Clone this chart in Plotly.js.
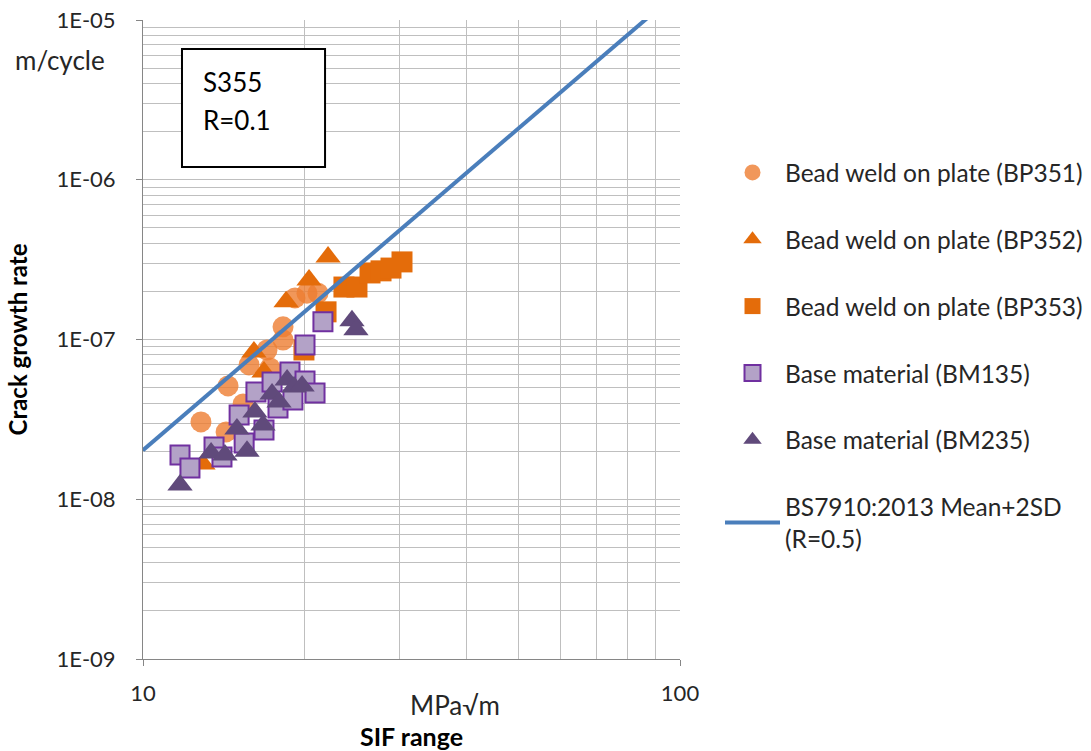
<!DOCTYPE html>
<html>
<head>
<meta charset="utf-8">
<script src="https://cdn.plot.ly/plotly-3.0.1.min.js"></script>
<style>
  html, body { margin: 0; padding: 0; background: #ffffff; }
  #chart { width: 1091px; height: 751px; }
</style>
</head>
<body>
<div id="chart"></div>
<script>
// ---- Data (SIF range in MPa√m, crack growth rate in m/cycle) ----
const bp351_x = [12.82, 14.28, 14.40, 15.36, 15.76, 17.02, 17.24, 18.23, 18.23, 19.19, 20.20, 21.18];
const bp351_y = [3.05e-8, 2.64e-8, 5.12e-8, 3.95e-8, 6.93e-8, 8.60e-8, 6.63e-8, 9.93e-8, 1.20e-7, 1.82e-7, 1.95e-7, 1.95e-7];

const bp352_x = [12.93, 16.09, 16.80, 18.47, 20.38, 22.11];
const bp352_y = [1.66e-8, 8.35e-8, 6.26e-8, 1.72e-7, 2.36e-7, 3.28e-7];

const bp353_x = [19.94, 21.92, 23.67, 25.03, 26.47, 27.75, 28.96, 30.36];
const bp353_y = [8.60e-8, 1.49e-7, 2.13e-7, 2.13e-7, 2.61e-7, 2.69e-7, 2.80e-7, 3.06e-7];

const bm135_x = [11.72, 12.23, 13.56, 14.03, 15.10, 15.43, 16.23, 16.80, 17.39, 17.84, 18.78, 19.02, 20.03, 20.91, 20.03, 21.63];
const bm135_y = [1.89e-8, 1.57e-8, 2.12e-8, 1.84e-8, 3.37e-8, 2.25e-8, 4.69e-8, 2.71e-8, 5.42e-8, 3.73e-8, 6.26e-8, 4.18e-8, 5.50e-8, 4.62e-8, 9.24e-8, 1.29e-7];

const bm235_x = [11.72, 13.39, 14.21, 14.96, 15.62, 16.16, 16.73, 17.39, 17.92, 18.55, 19.11, 19.78, 24.50, 24.92];
const bm235_y = [1.23e-8, 1.95e-8, 1.89e-8, 2.75e-8, 2.00e-8, 3.52e-8, 2.92e-8, 4.56e-8, 4.06e-8, 5.58e-8, 5.04e-8, 5.12e-8, 1.31e-7, 1.15e-7];

const bs7910_x = [10, 100];
const bs7910_y = [2.03e-8, 1.54e-5];

const seriesNames = [
  'Bead weld on plate (BP351)',
  'Bead weld on plate (BP352)',
  'Bead weld on plate (BP353)',
  'Base material (BM135)',
  'Base material (BM235)',
  'BS7910:2013 Mean+2SD<br>(R=0.5)'
];

// ---- Axis ticks ----
const xTickVals = [10, 100];
const xTickText = ['10', '100'];
const xMinorVals = [20, 30, 40, 50, 60, 70, 80, 90];
const yTickVals = [1e-9, 1e-8, 1e-7, 1e-6, 1e-5];
const yTickText = ['1E-09', '1E-08', '1E-07', '1E-06', '1E-05'];
const yMinorVals = [
  2e-9, 3e-9, 4e-9, 5e-9, 6e-9, 7e-9, 8e-9, 9e-9,
  2e-8, 3e-8, 4e-8, 5e-8, 6e-8, 7e-8, 8e-8, 9e-8,
  2e-7, 3e-7, 4e-7, 5e-7, 6e-7, 7e-7, 8e-7, 9e-7,
  2e-6, 3e-6, 4e-6, 5e-6, 6e-6, 7e-6, 8e-6, 9e-6
];

const FONT = 'Lato, "Open Sans", sans-serif';
const TXT = '#262626';

const traces = [
  { x: bp351_x, y: bp351_y, name: seriesNames[0], legendgroup: 'g1', mode: 'markers', type: 'scatter',
    marker: { symbol: 'circle', size: 21, color: '#ed7d31', opacity: 0.8, line: { width: 0 } } },
  { x: bp352_x, y: bp352_y, name: seriesNames[1], legendgroup: 'g2', mode: 'markers', type: 'scatter',
    marker: { symbol: 'triangle-up', size: 22, color: '#e46c0a', line: { width: 0 } } },
  { x: bp353_x, y: bp353_y, name: seriesNames[2], legendgroup: 'g3', mode: 'markers', type: 'scatter',
    marker: { symbol: 'square', size: 21, color: '#e46c0a', line: { width: 0 } } },
  { x: bm135_x, y: bm135_y, name: seriesNames[3], legendgroup: 'g4', mode: 'markers', type: 'scatter',
    marker: { symbol: 'square', size: 19, color: '#b3a2c7', line: { width: 2, color: '#7030a0' } } },
  { x: bm235_x, y: bm235_y, name: seriesNames[4], legendgroup: 'g5', mode: 'markers', type: 'scatter',
    marker: { symbol: 'triangle-up', size: 22, color: '#604a7b', line: { width: 0 } } },
  { x: bs7910_x, y: bs7910_y, name: seriesNames[5], legendgroup: 'g6', mode: 'lines', type: 'scatter',
    line: { color: '#4a7ebb', width: 4 } }
];

const layout = {
  width: 1091, height: 751,
  margin: { l: 143, r: 411, t: 20, b: 92, pad: 0, autoexpand: false },
  paper_bgcolor: '#ffffff', plot_bgcolor: '#ffffff',
  font: { family: FONT, color: TXT, size: 22 },
  showlegend: true,
  legend: {
    x: 1.0745, xanchor: 'left', y: 0.7966, yanchor: 'top',
    font: { family: FONT, size: 24.5, color: TXT },
    tracegroupgap: 32, itemwidth: 55, bgcolor: 'rgba(0,0,0,0)', borderwidth: 0
  },
  xaxis: {
    type: 'log', range: [1, 2], automargin: false,
    tickvals: xTickVals, ticktext: xTickText,
    ticks: 'outside', ticklen: 6, tickcolor: '#868686', tickwidth: 1,
    showline: true, linecolor: '#868686', linewidth: 1,
    showgrid: true, gridcolor: '#bfbfbf', gridwidth: 1,
    minor: { tickvals: xMinorVals, showgrid: true, gridcolor: '#bfbfbf', gridwidth: 1, ticks: '' },
    zeroline: false,
    tickfont: { family: FONT, size: 22, color: TXT },
    ticklabelstandoff: 9,
    title: { text: '<b>SIF range</b>', font: { family: FONT, size: 25, color: '#000000' }, standoff: 28 }
  },
  yaxis: {
    type: 'log', range: [-9, -5], automargin: false,
    tickvals: yTickVals, ticktext: yTickText,
    ticks: 'outside', ticklen: 6, tickcolor: '#868686', tickwidth: 1,
    showline: true, linecolor: '#868686', linewidth: 1,
    showgrid: true, gridcolor: '#bfbfbf', gridwidth: 1,
    minor: { tickvals: yMinorVals, showgrid: true, gridcolor: '#bfbfbf', gridwidth: 1, ticks: '' },
    zeroline: false,
    tickfont: { family: FONT, size: 22, color: TXT },
    ticklabelstandoff: 16,
    title: { text: '<b>Crack growth rate</b>', font: { family: FONT, size: 24, color: '#000000' }, standoff: 22 }
  },
  shapes: [
    { type: 'rect', xref: 'paper', yref: 'paper', x0: 0.0726, x1: 0.339, y0: 0.770, y1: 0.9546,
      line: { color: '#000000', width: 2 }, fillcolor: '#ffffff', layer: 'above' }
  ],
  annotations: [
    { xref: 'paper', yref: 'paper', x: 0.1085, y: 0.9022, xanchor: 'left', yanchor: 'middle', align: 'left',
      text: 'S355', showarrow: false, font: { family: FONT, size: 26, color: '#000000' } },
    { xref: 'paper', yref: 'paper', x: 0.1085, y: 0.8435, xanchor: 'left', yanchor: 'middle', align: 'left',
      text: 'R=0.1', showarrow: false, font: { family: FONT, size: 26, color: '#000000' } },
    { xref: 'paper', yref: 'paper', x: -0.1546, y: 0.937, xanchor: 'center', yanchor: 'middle',
      text: 'm/cycle', showarrow: false, font: { family: FONT, size: 26, color: TXT } },
    { xref: 'paper', yref: 'paper', x: 0.581, y: -0.072, xanchor: 'center', yanchor: 'middle',
      text: 'MPa√m', showarrow: false, font: { family: FONT, size: 26, color: TXT } }
  ]
};

Plotly.newPlot('chart', traces, layout, { displayModeBar: false, staticPlot: true });
</script>
</body>
</html>
